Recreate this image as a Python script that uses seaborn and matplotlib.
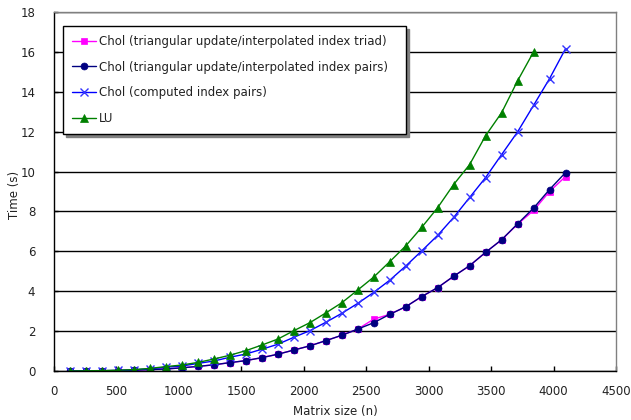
import matplotlib
matplotlib.use("Agg")
import matplotlib.pyplot as plt
import seaborn as sns
import pandas as pd

# Matrix sizes (n)
n_all = [128, 256, 384, 512, 640, 768, 896, 1024, 1152, 1280, 1408, 1536,
         1664, 1792, 1920, 2048, 2176, 2304, 2432, 2560, 2688, 2816, 2944, 3072,
         3200, 3328, 3456, 3584, 3712, 3840, 3968, 4096]
n_lu = n_all[:30]

chol_triad = [0.00, 0.005, 0.01, 0.02, 0.04, 0.07, 0.10, 0.16, 0.23, 0.31, 0.42, 0.52,
              0.67, 0.84, 1.05, 1.26, 1.52, 1.79, 2.10, 2.60, 2.84, 3.22, 3.73, 4.18,
              4.75, 5.28, 5.95, 6.58, 7.36, 8.05, 9.00, 9.75]
chol_pairs = [0.00, 0.005, 0.01, 0.02, 0.04, 0.07, 0.10, 0.16, 0.23, 0.31, 0.42, 0.52,
              0.67, 0.84, 1.05, 1.26, 1.52, 1.79, 2.10, 2.42, 2.84, 3.22, 3.73, 4.18,
              4.75, 5.28, 5.95, 6.58, 7.38, 8.17, 9.10, 9.95]
chol_computed = [0.00, 0.01, 0.015, 0.03, 0.06, 0.11, 0.19, 0.25, 0.38, 0.50, 0.69, 0.85,
                 1.09, 1.34, 1.69, 2.02, 2.44, 2.89, 3.39, 3.94, 4.55, 5.26, 6.02, 6.80,
                 7.70, 8.70, 9.70, 10.85, 11.99, 13.32, 14.66, 16.16]
lu = [0.00, 0.01, 0.02, 0.04, 0.07, 0.13, 0.22, 0.30, 0.43, 0.60, 0.79, 1.02,
      1.30, 1.60, 2.02, 2.42, 2.91, 3.42, 4.06, 4.71, 5.48, 6.27, 7.20, 8.19,
      9.35, 10.35, 11.80, 12.95, 14.55, 16.00]

labels = ["Chol (triangular update/interpolated index triad)",
          "Chol (triangular update/interpolated index pairs)",
          "Chol (computed index pairs)",
          "LU"]
x_ticks = [0, 500, 1000, 1500, 2000, 2500, 3000, 3500, 4000, 4500]
y_ticks = [0, 2, 4, 6, 8, 10, 12, 14, 16, 18]

sns.set_theme(style="white")
plt.rcParams["font.family"] = ["DejaVu Sans"]

fig = plt.figure(figsize=(6.31, 4.20), dpi=100)
ax = fig.add_axes([54/631, 1 - 371/420, (616-54)/631, (371-12)/420])

series = [
    (n_all, chol_triad, labels[0], "#FF00FF", "#FF00FF", "s", 4.6, 1.0),
    (n_all, chol_pairs, labels[1], "#000080", "#000080", "o", 5.0, 1.0),
    (n_all, chol_computed, labels[2], "#0000FF", "#3333FF", "x", 6.0, 1.0),
    (n_lu, lu, labels[3], "#008000", "#008000", "^", 5.6, 1.0),
]
for xs, ys, lab, lc, mc, mk, ms, lw in series:
    df = pd.DataFrame({"n": xs, "t": ys})
    sns.lineplot(data=df, x="n", y="t", ax=ax, color=lc, marker=mk,
                 markersize=ms, linewidth=lw, label=lab,
                 markerfacecolor=mc, markeredgecolor=mc,
                 markeredgewidth=1.0 if mk == "x" else 0.5)

ax.set_xlim(0, 4500)
ax.set_ylim(0, 18)
ax.set_xticks(x_ticks)
ax.set_yticks(y_ticks)
ax.set_xticklabels([str(v) for v in x_ticks], fontsize=8.5, color="#222222")
ax.set_yticklabels([str(v) for v in y_ticks], fontsize=8.5, color="#222222")
ax.tick_params(axis="x", direction="in", length=3.5, width=1, color="black", pad=10, bottom=True)
ax.tick_params(axis="y", direction="in", length=3, width=1, color="black", pad=13.5, left=True)
ax.yaxis.grid(True, color="black", linewidth=1.0)
ax.xaxis.grid(False)
ax.set_axisbelow(True)

for s in ["left", "bottom"]:
    ax.spines[s].set_color("black")
    ax.spines[s].set_linewidth(1.0)
for s in ["top", "right"]:
    ax.spines[s].set_color("#808080")
    ax.spines[s].set_linewidth(1.0)

ax.set_xlabel("Matrix size (n)", fontsize=8.5, color="#222222", labelpad=5)
ax.set_ylabel("Time (s)", fontsize=8.5, color="#222222")
ax.yaxis.set_label_coords(-0.059, 0.49)

leg = ax.legend(loc="upper left", bbox_to_anchor=(0.0166, 0.669, 0.6096, 0.292),
                mode="expand", fontsize=8.5, frameon=True, fancybox=False,
                shadow={"color": "#808080", "alpha": 1.0},
                edgecolor="black", framealpha=1, borderaxespad=0,
                handlelength=2.0, handletextpad=0.3, labelspacing=1.08,
                borderpad=0.75)
leg.get_frame().set_linewidth(1.0)
for t in leg.get_texts():
    t.set_color("#222222")

fig.savefig("out.png", dpi=100)
